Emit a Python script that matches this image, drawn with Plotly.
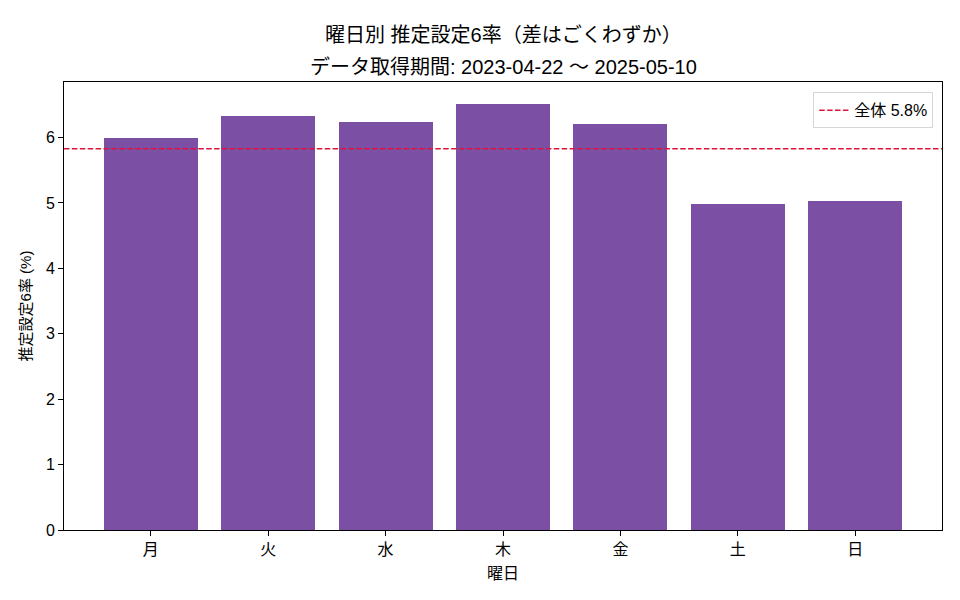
import plotly.graph_objects as go

# data
weekdays = ["月", "火", "水", "木", "金", "土", "日"]
rate_pct = [6.00, 6.33, 6.24, 6.52, 6.21, 4.98, 5.03]
overall_pct = 5.83
overall_label = "全体 5.8%"
title_lines = ["曜日別 推定設定6率（差はごくわずか）", "データ取得期間: 2023-04-22 〜 2025-05-10"]

# Latin glyphs from an Arial-like face, kana/kanji fall back to Noto CJK
FONT = "Liberation Sans, Noto Sans CJK JP"
BAR_COLOR = "#7b50a4"
LINE_COLOR = "#dc143c"
DASH = "5.5px,2.4px"

x_pos = list(range(len(weekdays)))
x_range = [-0.74, len(weekdays) - 1 + 0.74]

fig = go.Figure()

fig.add_trace(go.Bar(
    x=x_pos,
    y=rate_pct,
    width=0.8,
    marker_color=BAR_COLOR,
    marker_line_width=0,
    showlegend=False,
))

# overall line (shape) + legend entry
fig.add_shape(
    type="line", xref="x domain", yref="y",
    x0=0, x1=1, y0=overall_pct, y1=overall_pct,
    line=dict(color=LINE_COLOR, width=1.5, dash=DASH),
)
fig.add_trace(go.Scatter(
    x=[None], y=[None], mode="lines",
    line=dict(color=LINE_COLOR, width=1.5, dash=DASH),
    name=overall_label,
))

# two-line title as annotations (better spacing control)
for i, line in enumerate(title_lines):
    fig.add_annotation(
        text=line, xref="paper", yref="paper",
        x=0.5, y=1.0, xanchor="center", yanchor="middle",
        yshift=47 - i * 32, showarrow=False,
        font=dict(size=20, color="black"),
    )

# page body adds an 8px offset, so figure is a bit smaller than 960x600
fig.update_layout(
    width=952, height=592,
    margin=dict(l=56, r=18, t=74, b=70),
    plot_bgcolor="white",
    paper_bgcolor="white",
    font=dict(family=FONT, size=14, color="black"),
    legend=dict(
        x=0.99, y=0.977, xanchor="right", yanchor="top",
        bordercolor="#d6d6d6", borderwidth=1,
        bgcolor="rgba(255,255,255,0.8)",
        font=dict(size=16),
    ),
    bargap=0,
)

fig.update_xaxes(
    range=x_range,
    tickmode="array", tickvals=x_pos, ticktext=weekdays,
    ticks="outside", ticklen=5, tickcolor="black",
    tickfont=dict(size=16),
    showline=True, linecolor="black", linewidth=1, mirror=True,
    showgrid=False, zeroline=False,
    title=dict(text="曜日", font=dict(size=16), standoff=10),
)
fig.update_yaxes(
    range=[0, 6.85],
    dtick=1,
    ticks="outside", ticklen=5, tickcolor="black",
    tickfont=dict(size=16),
    showline=True, linecolor="black", linewidth=1, mirror=True,
    showgrid=False, zeroline=False,
    title=dict(text="推定設定6率 (%)", font=dict(size=15), standoff=10),
)

fig.write_html("out.html")
